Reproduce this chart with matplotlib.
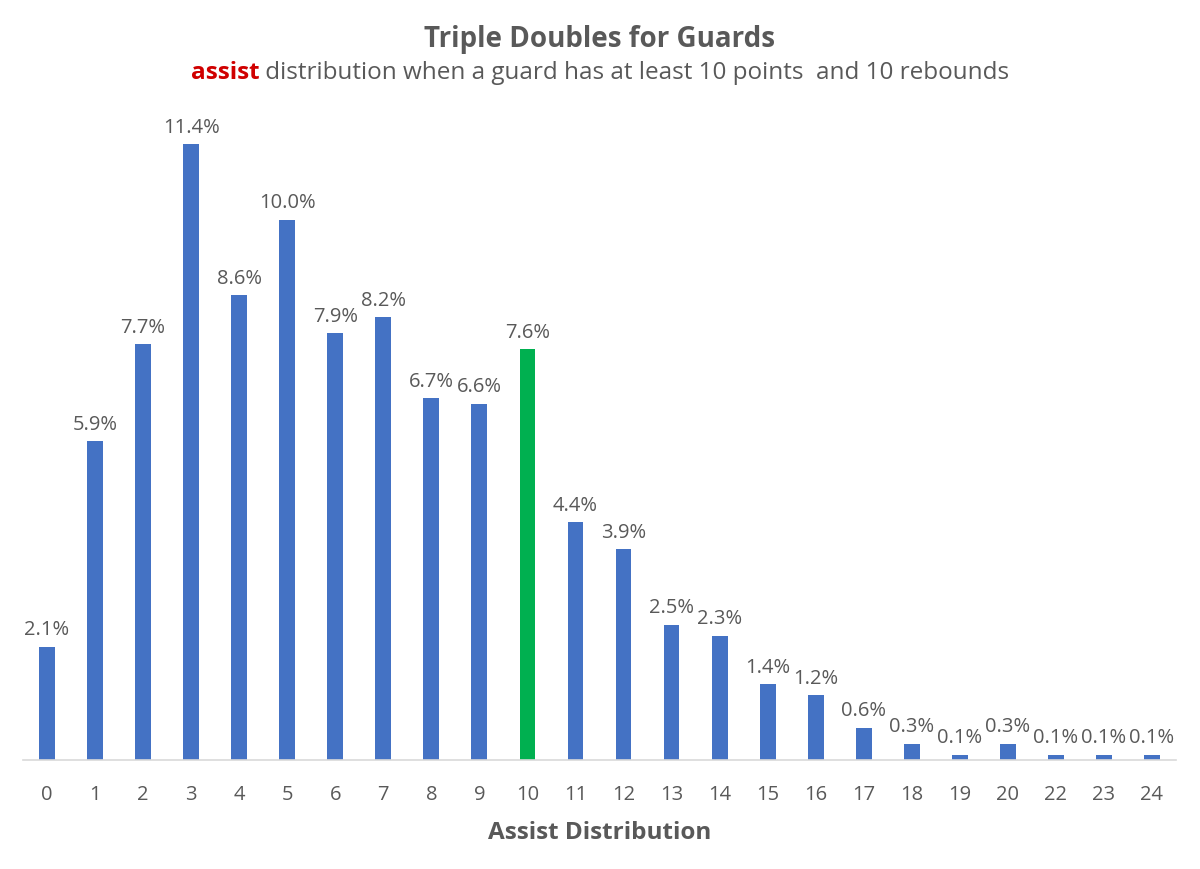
import matplotlib
matplotlib.use('Agg')
from matplotlib import pyplot as plt
import numpy as np

plt.rcParams['font.family'] = ['Open Sans', 'DejaVu Sans']

# assist counts (21 never shows up in the data)
assists = ['0', '1', '2', '3', '4', '5', '6', '7', '8', '9', '10', '11', '12',
           '13', '14', '15', '16', '17', '18', '19', '20', '22', '23', '24']
pct = [2.1, 5.9, 7.7, 11.4, 8.6, 10.0, 7.9, 8.2, 6.7, 6.6, 7.6, 4.4, 3.9,
       2.5, 2.3, 1.4, 1.2, 0.6, 0.3, 0.1, 0.3, 0.1, 0.1, 0.1]
highlight = '10'

BLUE = '#4472C4'
GREEN = '#00B050'
GREY = '#595959'

fig = plt.figure(figsize=(12, 8.7), dpi=100)
ax = fig.add_axes([23/1200, 0.1253, 1153/1200, 0.745])

x = np.arange(len(assists))
colors = [GREEN if a == highlight else BLUE for a in assists]
bars = ax.bar(x, pct, width=0.33, color=colors)

for xi, v in zip(x, pct):
    ax.text(xi, v + 0.14, '%.1f%%' % v, ha='center', va='bottom',
            fontsize=14.5, color=GREY)

ax.set_xlim(-0.5, len(assists) - 0.5)
ax.set_ylim(0, 12)
ax.set_xticks(x)
ax.set_xticklabels(assists, fontsize=14.5, color=GREY)
ax.tick_params(axis='x', length=0, pad=17)
ax.set_yticks([])
for s in ['top', 'right', 'left']:
    ax.spines[s].set_visible(False)
ax.spines['bottom'].set_color('#D9D9D9')
ax.spines['bottom'].set_linewidth(1.2)
ax.set_xlabel('Assist Distribution', fontsize=17.5, fontweight='bold',
              color=GREY, labelpad=12)

# titles
fig.text(0.5, 1 - 39/870, 'Triple Doubles for Guards', ha='center', va='center',
         fontsize=20, fontweight='bold', color=GREY)

y_sub = 1 - 73/870
t1 = fig.text(0.5, y_sub, 'assist', ha='left', va='center', fontsize=17.5,
              fontweight='bold', color='#D00000')
t2 = fig.text(0.5, y_sub, ' distribution when a guard has at least 10 points  and 10 rebounds',
              ha='left', va='center', fontsize=17.5, color=GREY)
fig.canvas.draw()
r = fig.canvas.get_renderer()
w1 = t1.get_window_extent(r).width / fig.bbox.width
w2 = t2.get_window_extent(r).width / fig.bbox.width
x0 = 0.5 - (w1 + w2) / 2
t1.set_x(x0)
t2.set_x(x0 + w1)

fig.savefig('out.png', dpi=100)
